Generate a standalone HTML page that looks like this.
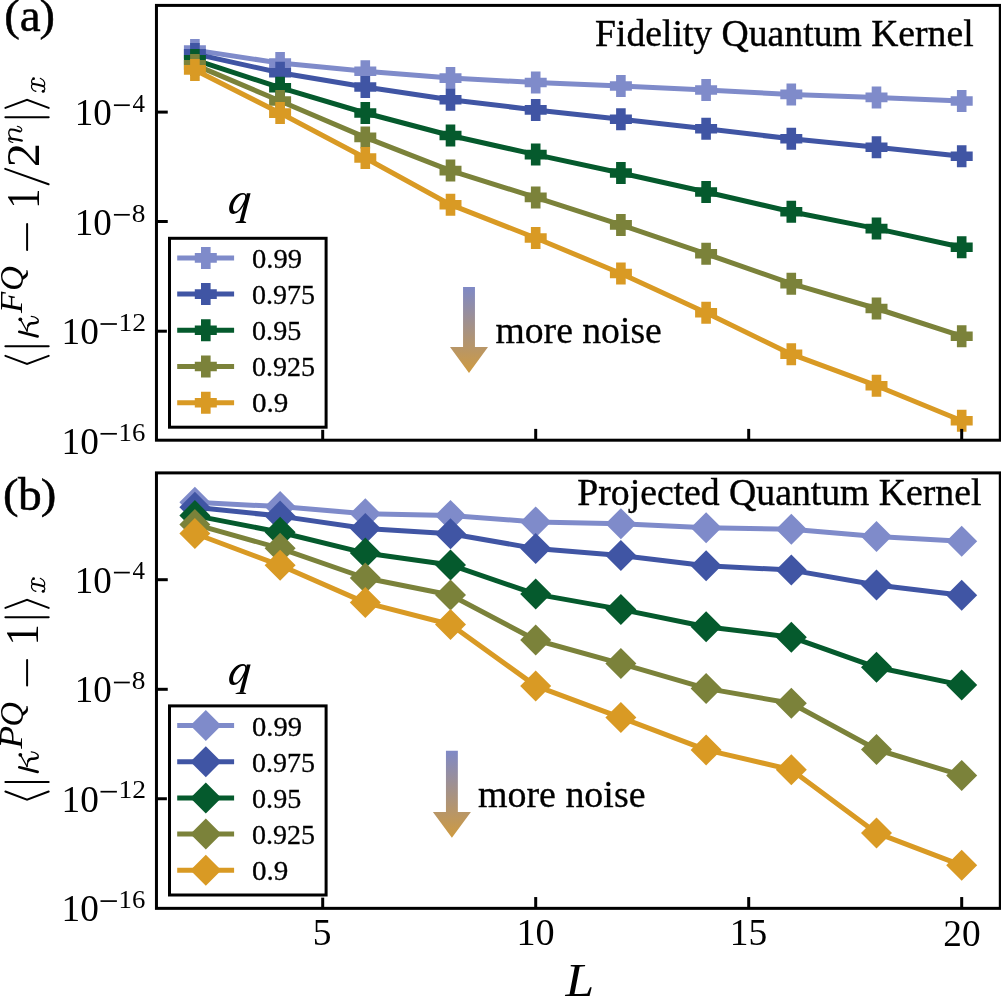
<!DOCTYPE html>
<html><head><meta charset="utf-8"><style>
html,body{margin:0;padding:0;background:#fff;overflow:hidden}
svg{display:block;will-change:transform}
text{font-family:"Liberation Serif",serif;font-kerning:none}
</style></head><body>
<svg width="1001" height="996" viewBox="0 0 1001 996" font-family="Liberation Serif, serif" style="font-kerning:none">
<rect width="1001" height="996" fill="#fff"/>
<clipPath id="ca"><rect x="156.45" y="5.4" width="843.8499999999999" height="434.8"/></clipPath>
<g clip-path="url(#ca)">
<path d="M194.90,50.10 L280.10,63.10 L365.30,71.30 L450.50,78.10 L535.70,82.50 L620.90,86.00 L706.10,90.00 L791.30,94.40 L876.50,97.40 L961.70,101.00" fill="none" stroke="#7f8bca" stroke-width="5.0" stroke-linejoin="round"/>
<path d="M190.10,39.10 L199.70,39.10 L199.70,45.30 L205.90,45.30 L205.90,54.90 L199.70,54.90 L199.70,61.10 L190.10,61.10 L190.10,54.90 L183.90,54.90 L183.90,45.30 L190.10,45.30Z" fill="#7f8bca"/>
<path d="M275.30,52.10 L284.90,52.10 L284.90,58.30 L291.10,58.30 L291.10,67.90 L284.90,67.90 L284.90,74.10 L275.30,74.10 L275.30,67.90 L269.10,67.90 L269.10,58.30 L275.30,58.30Z" fill="#7f8bca"/>
<path d="M360.50,60.30 L370.10,60.30 L370.10,66.50 L376.30,66.50 L376.30,76.10 L370.10,76.10 L370.10,82.30 L360.50,82.30 L360.50,76.10 L354.30,76.10 L354.30,66.50 L360.50,66.50Z" fill="#7f8bca"/>
<path d="M445.70,67.10 L455.30,67.10 L455.30,73.30 L461.50,73.30 L461.50,82.90 L455.30,82.90 L455.30,89.10 L445.70,89.10 L445.70,82.90 L439.50,82.90 L439.50,73.30 L445.70,73.30Z" fill="#7f8bca"/>
<path d="M530.90,71.50 L540.50,71.50 L540.50,77.70 L546.70,77.70 L546.70,87.30 L540.50,87.30 L540.50,93.50 L530.90,93.50 L530.90,87.30 L524.70,87.30 L524.70,77.70 L530.90,77.70Z" fill="#7f8bca"/>
<path d="M616.10,75.00 L625.70,75.00 L625.70,81.20 L631.90,81.20 L631.90,90.80 L625.70,90.80 L625.70,97.00 L616.10,97.00 L616.10,90.80 L609.90,90.80 L609.90,81.20 L616.10,81.20Z" fill="#7f8bca"/>
<path d="M701.30,79.00 L710.90,79.00 L710.90,85.20 L717.10,85.20 L717.10,94.80 L710.90,94.80 L710.90,101.00 L701.30,101.00 L701.30,94.80 L695.10,94.80 L695.10,85.20 L701.30,85.20Z" fill="#7f8bca"/>
<path d="M786.50,83.40 L796.10,83.40 L796.10,89.60 L802.30,89.60 L802.30,99.20 L796.10,99.20 L796.10,105.40 L786.50,105.40 L786.50,99.20 L780.30,99.20 L780.30,89.60 L786.50,89.60Z" fill="#7f8bca"/>
<path d="M871.70,86.40 L881.30,86.40 L881.30,92.60 L887.50,92.60 L887.50,102.20 L881.30,102.20 L881.30,108.40 L871.70,108.40 L871.70,102.20 L865.50,102.20 L865.50,92.60 L871.70,92.60Z" fill="#7f8bca"/>
<path d="M956.90,90.00 L966.50,90.00 L966.50,96.20 L972.70,96.20 L972.70,105.80 L966.50,105.80 L966.50,112.00 L956.90,112.00 L956.90,105.80 L950.70,105.80 L950.70,96.20 L956.90,96.20Z" fill="#7f8bca"/>
<path d="M194.90,53.90 L280.10,72.80 L365.30,87.00 L450.50,99.80 L535.70,109.90 L620.90,119.20 L706.10,128.80 L791.30,138.80 L876.50,147.20 L961.70,156.30" fill="none" stroke="#4055a4" stroke-width="5.0" stroke-linejoin="round"/>
<path d="M190.10,42.90 L199.70,42.90 L199.70,49.10 L205.90,49.10 L205.90,58.70 L199.70,58.70 L199.70,64.90 L190.10,64.90 L190.10,58.70 L183.90,58.70 L183.90,49.10 L190.10,49.10Z" fill="#4055a4"/>
<path d="M275.30,61.80 L284.90,61.80 L284.90,68.00 L291.10,68.00 L291.10,77.60 L284.90,77.60 L284.90,83.80 L275.30,83.80 L275.30,77.60 L269.10,77.60 L269.10,68.00 L275.30,68.00Z" fill="#4055a4"/>
<path d="M360.50,76.00 L370.10,76.00 L370.10,82.20 L376.30,82.20 L376.30,91.80 L370.10,91.80 L370.10,98.00 L360.50,98.00 L360.50,91.80 L354.30,91.80 L354.30,82.20 L360.50,82.20Z" fill="#4055a4"/>
<path d="M445.70,88.80 L455.30,88.80 L455.30,95.00 L461.50,95.00 L461.50,104.60 L455.30,104.60 L455.30,110.80 L445.70,110.80 L445.70,104.60 L439.50,104.60 L439.50,95.00 L445.70,95.00Z" fill="#4055a4"/>
<path d="M530.90,98.90 L540.50,98.90 L540.50,105.10 L546.70,105.10 L546.70,114.70 L540.50,114.70 L540.50,120.90 L530.90,120.90 L530.90,114.70 L524.70,114.70 L524.70,105.10 L530.90,105.10Z" fill="#4055a4"/>
<path d="M616.10,108.20 L625.70,108.20 L625.70,114.40 L631.90,114.40 L631.90,124.00 L625.70,124.00 L625.70,130.20 L616.10,130.20 L616.10,124.00 L609.90,124.00 L609.90,114.40 L616.10,114.40Z" fill="#4055a4"/>
<path d="M701.30,117.80 L710.90,117.80 L710.90,124.00 L717.10,124.00 L717.10,133.60 L710.90,133.60 L710.90,139.80 L701.30,139.80 L701.30,133.60 L695.10,133.60 L695.10,124.00 L701.30,124.00Z" fill="#4055a4"/>
<path d="M786.50,127.80 L796.10,127.80 L796.10,134.00 L802.30,134.00 L802.30,143.60 L796.10,143.60 L796.10,149.80 L786.50,149.80 L786.50,143.60 L780.30,143.60 L780.30,134.00 L786.50,134.00Z" fill="#4055a4"/>
<path d="M871.70,136.20 L881.30,136.20 L881.30,142.40 L887.50,142.40 L887.50,152.00 L881.30,152.00 L881.30,158.20 L871.70,158.20 L871.70,152.00 L865.50,152.00 L865.50,142.40 L871.70,142.40Z" fill="#4055a4"/>
<path d="M956.90,145.30 L966.50,145.30 L966.50,151.50 L972.70,151.50 L972.70,161.10 L966.50,161.10 L966.50,167.30 L956.90,167.30 L956.90,161.10 L950.70,161.10 L950.70,151.50 L956.90,151.50Z" fill="#4055a4"/>
<path d="M194.90,59.90 L280.10,87.70 L365.30,113.00 L450.50,135.50 L535.70,154.60 L620.90,173.00 L706.10,192.00 L791.30,211.70 L876.50,228.60 L961.70,247.30" fill="none" stroke="#055a2d" stroke-width="5.0" stroke-linejoin="round"/>
<path d="M190.10,48.90 L199.70,48.90 L199.70,55.10 L205.90,55.10 L205.90,64.70 L199.70,64.70 L199.70,70.90 L190.10,70.90 L190.10,64.70 L183.90,64.70 L183.90,55.10 L190.10,55.10Z" fill="#055a2d"/>
<path d="M275.30,76.70 L284.90,76.70 L284.90,82.90 L291.10,82.90 L291.10,92.50 L284.90,92.50 L284.90,98.70 L275.30,98.70 L275.30,92.50 L269.10,92.50 L269.10,82.90 L275.30,82.90Z" fill="#055a2d"/>
<path d="M360.50,102.00 L370.10,102.00 L370.10,108.20 L376.30,108.20 L376.30,117.80 L370.10,117.80 L370.10,124.00 L360.50,124.00 L360.50,117.80 L354.30,117.80 L354.30,108.20 L360.50,108.20Z" fill="#055a2d"/>
<path d="M445.70,124.50 L455.30,124.50 L455.30,130.70 L461.50,130.70 L461.50,140.30 L455.30,140.30 L455.30,146.50 L445.70,146.50 L445.70,140.30 L439.50,140.30 L439.50,130.70 L445.70,130.70Z" fill="#055a2d"/>
<path d="M530.90,143.60 L540.50,143.60 L540.50,149.80 L546.70,149.80 L546.70,159.40 L540.50,159.40 L540.50,165.60 L530.90,165.60 L530.90,159.40 L524.70,159.40 L524.70,149.80 L530.90,149.80Z" fill="#055a2d"/>
<path d="M616.10,162.00 L625.70,162.00 L625.70,168.20 L631.90,168.20 L631.90,177.80 L625.70,177.80 L625.70,184.00 L616.10,184.00 L616.10,177.80 L609.90,177.80 L609.90,168.20 L616.10,168.20Z" fill="#055a2d"/>
<path d="M701.30,181.00 L710.90,181.00 L710.90,187.20 L717.10,187.20 L717.10,196.80 L710.90,196.80 L710.90,203.00 L701.30,203.00 L701.30,196.80 L695.10,196.80 L695.10,187.20 L701.30,187.20Z" fill="#055a2d"/>
<path d="M786.50,200.70 L796.10,200.70 L796.10,206.90 L802.30,206.90 L802.30,216.50 L796.10,216.50 L796.10,222.70 L786.50,222.70 L786.50,216.50 L780.30,216.50 L780.30,206.90 L786.50,206.90Z" fill="#055a2d"/>
<path d="M871.70,217.60 L881.30,217.60 L881.30,223.80 L887.50,223.80 L887.50,233.40 L881.30,233.40 L881.30,239.60 L871.70,239.60 L871.70,233.40 L865.50,233.40 L865.50,223.80 L871.70,223.80Z" fill="#055a2d"/>
<path d="M956.90,236.30 L966.50,236.30 L966.50,242.50 L972.70,242.50 L972.70,252.10 L966.50,252.10 L966.50,258.30 L956.90,258.30 L956.90,252.10 L950.70,252.10 L950.70,242.50 L956.90,242.50Z" fill="#055a2d"/>
<path d="M194.90,64.90 L280.10,101.00 L365.30,137.40 L450.50,170.60 L535.70,197.40 L620.90,224.90 L706.10,253.80 L791.30,283.70 L876.50,308.50 L961.70,336.20" fill="none" stroke="#7b823a" stroke-width="5.0" stroke-linejoin="round"/>
<path d="M190.10,53.90 L199.70,53.90 L199.70,60.10 L205.90,60.10 L205.90,69.70 L199.70,69.70 L199.70,75.90 L190.10,75.90 L190.10,69.70 L183.90,69.70 L183.90,60.10 L190.10,60.10Z" fill="#7b823a"/>
<path d="M275.30,90.00 L284.90,90.00 L284.90,96.20 L291.10,96.20 L291.10,105.80 L284.90,105.80 L284.90,112.00 L275.30,112.00 L275.30,105.80 L269.10,105.80 L269.10,96.20 L275.30,96.20Z" fill="#7b823a"/>
<path d="M360.50,126.40 L370.10,126.40 L370.10,132.60 L376.30,132.60 L376.30,142.20 L370.10,142.20 L370.10,148.40 L360.50,148.40 L360.50,142.20 L354.30,142.20 L354.30,132.60 L360.50,132.60Z" fill="#7b823a"/>
<path d="M445.70,159.60 L455.30,159.60 L455.30,165.80 L461.50,165.80 L461.50,175.40 L455.30,175.40 L455.30,181.60 L445.70,181.60 L445.70,175.40 L439.50,175.40 L439.50,165.80 L445.70,165.80Z" fill="#7b823a"/>
<path d="M530.90,186.40 L540.50,186.40 L540.50,192.60 L546.70,192.60 L546.70,202.20 L540.50,202.20 L540.50,208.40 L530.90,208.40 L530.90,202.20 L524.70,202.20 L524.70,192.60 L530.90,192.60Z" fill="#7b823a"/>
<path d="M616.10,213.90 L625.70,213.90 L625.70,220.10 L631.90,220.10 L631.90,229.70 L625.70,229.70 L625.70,235.90 L616.10,235.90 L616.10,229.70 L609.90,229.70 L609.90,220.10 L616.10,220.10Z" fill="#7b823a"/>
<path d="M701.30,242.80 L710.90,242.80 L710.90,249.00 L717.10,249.00 L717.10,258.60 L710.90,258.60 L710.90,264.80 L701.30,264.80 L701.30,258.60 L695.10,258.60 L695.10,249.00 L701.30,249.00Z" fill="#7b823a"/>
<path d="M786.50,272.70 L796.10,272.70 L796.10,278.90 L802.30,278.90 L802.30,288.50 L796.10,288.50 L796.10,294.70 L786.50,294.70 L786.50,288.50 L780.30,288.50 L780.30,278.90 L786.50,278.90Z" fill="#7b823a"/>
<path d="M871.70,297.50 L881.30,297.50 L881.30,303.70 L887.50,303.70 L887.50,313.30 L881.30,313.30 L881.30,319.50 L871.70,319.50 L871.70,313.30 L865.50,313.30 L865.50,303.70 L871.70,303.70Z" fill="#7b823a"/>
<path d="M956.90,325.20 L966.50,325.20 L966.50,331.40 L972.70,331.40 L972.70,341.00 L966.50,341.00 L966.50,347.20 L956.90,347.20 L956.90,341.00 L950.70,341.00 L950.70,331.40 L956.90,331.40Z" fill="#7b823a"/>
<path d="M194.90,69.90 L280.10,113.10 L365.30,158.00 L450.50,204.70 L535.70,238.00 L620.90,273.50 L706.10,312.80 L791.30,354.20 L876.50,385.70 L961.70,420.70" fill="none" stroke="#d99a24" stroke-width="5.0" stroke-linejoin="round"/>
<path d="M190.10,58.90 L199.70,58.90 L199.70,65.10 L205.90,65.10 L205.90,74.70 L199.70,74.70 L199.70,80.90 L190.10,80.90 L190.10,74.70 L183.90,74.70 L183.90,65.10 L190.10,65.10Z" fill="#d99a24"/>
<path d="M275.30,102.10 L284.90,102.10 L284.90,108.30 L291.10,108.30 L291.10,117.90 L284.90,117.90 L284.90,124.10 L275.30,124.10 L275.30,117.90 L269.10,117.90 L269.10,108.30 L275.30,108.30Z" fill="#d99a24"/>
<path d="M360.50,147.00 L370.10,147.00 L370.10,153.20 L376.30,153.20 L376.30,162.80 L370.10,162.80 L370.10,169.00 L360.50,169.00 L360.50,162.80 L354.30,162.80 L354.30,153.20 L360.50,153.20Z" fill="#d99a24"/>
<path d="M445.70,193.70 L455.30,193.70 L455.30,199.90 L461.50,199.90 L461.50,209.50 L455.30,209.50 L455.30,215.70 L445.70,215.70 L445.70,209.50 L439.50,209.50 L439.50,199.90 L445.70,199.90Z" fill="#d99a24"/>
<path d="M530.90,227.00 L540.50,227.00 L540.50,233.20 L546.70,233.20 L546.70,242.80 L540.50,242.80 L540.50,249.00 L530.90,249.00 L530.90,242.80 L524.70,242.80 L524.70,233.20 L530.90,233.20Z" fill="#d99a24"/>
<path d="M616.10,262.50 L625.70,262.50 L625.70,268.70 L631.90,268.70 L631.90,278.30 L625.70,278.30 L625.70,284.50 L616.10,284.50 L616.10,278.30 L609.90,278.30 L609.90,268.70 L616.10,268.70Z" fill="#d99a24"/>
<path d="M701.30,301.80 L710.90,301.80 L710.90,308.00 L717.10,308.00 L717.10,317.60 L710.90,317.60 L710.90,323.80 L701.30,323.80 L701.30,317.60 L695.10,317.60 L695.10,308.00 L701.30,308.00Z" fill="#d99a24"/>
<path d="M786.50,343.20 L796.10,343.20 L796.10,349.40 L802.30,349.40 L802.30,359.00 L796.10,359.00 L796.10,365.20 L786.50,365.20 L786.50,359.00 L780.30,359.00 L780.30,349.40 L786.50,349.40Z" fill="#d99a24"/>
<path d="M871.70,374.70 L881.30,374.70 L881.30,380.90 L887.50,380.90 L887.50,390.50 L881.30,390.50 L881.30,396.70 L871.70,396.70 L871.70,390.50 L865.50,390.50 L865.50,380.90 L871.70,380.90Z" fill="#d99a24"/>
<path d="M956.90,409.70 L966.50,409.70 L966.50,415.90 L972.70,415.90 L972.70,425.50 L966.50,425.50 L966.50,431.70 L956.90,431.70 L956.90,425.50 L950.70,425.50 L950.70,415.90 L956.90,415.90Z" fill="#d99a24"/>
</g>
<line x1="156.45" y1="112.1" x2="167.75" y2="112.1" stroke="#000" stroke-width="3.0"/>
<line x1="156.45" y1="221.5" x2="167.75" y2="221.5" stroke="#000" stroke-width="3.0"/>
<line x1="156.45" y1="331.2" x2="167.75" y2="331.2" stroke="#000" stroke-width="3.0"/>
<line x1="322.70" y1="440.2" x2="322.70" y2="428.9" stroke="#000" stroke-width="3.0"/>
<line x1="535.70" y1="440.2" x2="535.70" y2="428.9" stroke="#000" stroke-width="3.0"/>
<line x1="748.70" y1="440.2" x2="748.70" y2="428.9" stroke="#000" stroke-width="3.0"/>
<line x1="961.70" y1="440.2" x2="961.70" y2="428.9" stroke="#000" stroke-width="3.0"/>
<rect x="156.45" y="5.4" width="843.8499999999999" height="434.8" fill="none" stroke="#000" stroke-width="3.0"/>
<text transform="matrix(0.99110,0,0,1,595.015,46.050)" font-size="38.00" fill="#000" stroke="#000" stroke-width="0.400">Fidelity Quantum Kernel</text>
<rect x="169.5" y="238.3" width="156.60000000000002" height="188.89999999999998" fill="#fff" stroke="#fff" stroke-width="5.2"/>
<rect x="169.5" y="238.3" width="156.60000000000002" height="188.89999999999998" fill="#fff" stroke="#000" stroke-width="3.0"/>
<line x1="177.2" y1="257.90" x2="234.1" y2="257.90" stroke="#7f8bca" stroke-width="5.0"/>
<path d="M201.00,246.90 L210.60,246.90 L210.60,253.10 L216.80,253.10 L216.80,262.70 L210.60,262.70 L210.60,268.90 L201.00,268.90 L201.00,262.70 L194.80,262.70 L194.80,253.10 L201.00,253.10Z" fill="#7f8bca"/>
<text transform="matrix(1.03060,0,0,1,252.013,267.600)" font-size="27.70" fill="#000" stroke="#000" stroke-width="0.300">0.99</text>
<line x1="177.2" y1="294.10" x2="234.1" y2="294.10" stroke="#4055a4" stroke-width="5.0"/>
<path d="M201.00,283.10 L210.60,283.10 L210.60,289.30 L216.80,289.30 L216.80,298.90 L210.60,298.90 L210.60,305.10 L201.00,305.10 L201.00,298.90 L194.80,298.90 L194.80,289.30 L201.00,289.30Z" fill="#4055a4"/>
<text transform="matrix(1.01183,0,0,1,252.033,303.750)" font-size="27.70" fill="#000" stroke="#000" stroke-width="0.300">0.975</text>
<line x1="177.2" y1="330.30" x2="234.1" y2="330.30" stroke="#055a2d" stroke-width="5.0"/>
<path d="M201.00,319.30 L210.60,319.30 L210.60,325.50 L216.80,325.50 L216.80,335.10 L210.60,335.10 L210.60,341.30 L201.00,341.30 L201.00,335.10 L194.80,335.10 L194.80,325.50 L201.00,325.50Z" fill="#055a2d"/>
<text transform="matrix(1.01644,0,0,1,252.028,339.900)" font-size="27.70" fill="#000" stroke="#000" stroke-width="0.300">0.95</text>
<line x1="177.2" y1="366.50" x2="234.1" y2="366.50" stroke="#7b823a" stroke-width="5.0"/>
<path d="M201.00,355.50 L210.60,355.50 L210.60,361.70 L216.80,361.70 L216.80,371.30 L210.60,371.30 L210.60,377.50 L201.00,377.50 L201.00,371.30 L194.80,371.30 L194.80,361.70 L201.00,361.70Z" fill="#7b823a"/>
<text transform="matrix(1.01183,0,0,1,252.033,376.050)" font-size="27.70" fill="#000" stroke="#000" stroke-width="0.300">0.925</text>
<line x1="177.2" y1="402.70" x2="234.1" y2="402.70" stroke="#d99a24" stroke-width="5.0"/>
<path d="M201.00,391.70 L210.60,391.70 L210.60,397.90 L216.80,397.90 L216.80,407.50 L210.60,407.50 L210.60,413.70 L201.00,413.70 L201.00,407.50 L194.80,407.50 L194.80,397.90 L201.00,397.90Z" fill="#d99a24"/>
<text transform="matrix(1.05137,0,0,1,251.991,412.200)" font-size="27.70" fill="#000" stroke="#000" stroke-width="0.300">0.9</text>
<g transform="translate(0,0.00)" fill="#000"><path fill-rule="evenodd" d="M243.0,192.9 C247.6,192.9 247.6,198.5 245.3,202.6 C242.1,208.6 238.0,213.9 233.4,213.9 C229.4,213.9 228.5,209.5 229.5,205.4 C230.9,199.4 236.5,192.9 243.0,192.9 Z M243.3,194.6 C245.8,194.6 245.8,198.0 244.0,201.6 C241.5,206.6 238.6,211.5 235.6,211.5 C233.1,211.5 232.7,208.6 233.3,205.6 C234.4,200.6 239.0,194.6 243.3,194.6 Z"/><path d="M246.8,193.3 L250.6,193.3 L243.4,221.2 L239.6,221.2 Z"/><path d="M235.0,222.9 C236.5,221.6 238.0,221.1 239.6,221.0 L243.4,221.0 C244.5,221.1 245.6,221.6 246.4,222.9 Z"/></g>
<clipPath id="cb"><rect x="156.45" y="472.9" width="843.8499999999999" height="435.45000000000005"/></clipPath>
<g clip-path="url(#cb)">
<path d="M194.90,502.30 L280.10,506.60 L365.30,513.70 L450.50,515.40 L535.70,521.90 L620.90,523.70 L706.10,527.80 L791.30,529.30 L876.50,536.50 L961.70,541.30" fill="none" stroke="#7f8bca" stroke-width="5.0" stroke-linejoin="round"/>
<path d="M194.90,486.80 L210.40,502.30 L194.90,517.80 L179.40,502.30Z" fill="#7f8bca"/>
<path d="M280.10,491.10 L295.60,506.60 L280.10,522.10 L264.60,506.60Z" fill="#7f8bca"/>
<path d="M365.30,498.20 L380.80,513.70 L365.30,529.20 L349.80,513.70Z" fill="#7f8bca"/>
<path d="M450.50,499.90 L466.00,515.40 L450.50,530.90 L435.00,515.40Z" fill="#7f8bca"/>
<path d="M535.70,506.40 L551.20,521.90 L535.70,537.40 L520.20,521.90Z" fill="#7f8bca"/>
<path d="M620.90,508.20 L636.40,523.70 L620.90,539.20 L605.40,523.70Z" fill="#7f8bca"/>
<path d="M706.10,512.30 L721.60,527.80 L706.10,543.30 L690.60,527.80Z" fill="#7f8bca"/>
<path d="M791.30,513.80 L806.80,529.30 L791.30,544.80 L775.80,529.30Z" fill="#7f8bca"/>
<path d="M876.50,521.00 L892.00,536.50 L876.50,552.00 L861.00,536.50Z" fill="#7f8bca"/>
<path d="M961.70,525.80 L977.20,541.30 L961.70,556.80 L946.20,541.30Z" fill="#7f8bca"/>
<path d="M194.90,507.20 L280.10,516.10 L365.30,528.50 L450.50,533.80 L535.70,548.60 L620.90,555.40 L706.10,565.70 L791.30,570.10 L876.50,585.00 L961.70,595.20" fill="none" stroke="#4055a4" stroke-width="5.0" stroke-linejoin="round"/>
<path d="M194.90,491.70 L210.40,507.20 L194.90,522.70 L179.40,507.20Z" fill="#4055a4"/>
<path d="M280.10,500.60 L295.60,516.10 L280.10,531.60 L264.60,516.10Z" fill="#4055a4"/>
<path d="M365.30,513.00 L380.80,528.50 L365.30,544.00 L349.80,528.50Z" fill="#4055a4"/>
<path d="M450.50,518.30 L466.00,533.80 L450.50,549.30 L435.00,533.80Z" fill="#4055a4"/>
<path d="M535.70,533.10 L551.20,548.60 L535.70,564.10 L520.20,548.60Z" fill="#4055a4"/>
<path d="M620.90,539.90 L636.40,555.40 L620.90,570.90 L605.40,555.40Z" fill="#4055a4"/>
<path d="M706.10,550.20 L721.60,565.70 L706.10,581.20 L690.60,565.70Z" fill="#4055a4"/>
<path d="M791.30,554.60 L806.80,570.10 L791.30,585.60 L775.80,570.10Z" fill="#4055a4"/>
<path d="M876.50,569.50 L892.00,585.00 L876.50,600.50 L861.00,585.00Z" fill="#4055a4"/>
<path d="M961.70,579.70 L977.20,595.20 L961.70,610.70 L946.20,595.20Z" fill="#4055a4"/>
<path d="M194.90,515.60 L280.10,532.20 L365.30,553.10 L450.50,564.90 L535.70,594.10 L620.90,609.40 L706.10,626.70 L791.30,637.20 L876.50,667.30 L961.70,685.10" fill="none" stroke="#055a2d" stroke-width="5.0" stroke-linejoin="round"/>
<path d="M194.90,500.10 L210.40,515.60 L194.90,531.10 L179.40,515.60Z" fill="#055a2d"/>
<path d="M280.10,516.70 L295.60,532.20 L280.10,547.70 L264.60,532.20Z" fill="#055a2d"/>
<path d="M365.30,537.60 L380.80,553.10 L365.30,568.60 L349.80,553.10Z" fill="#055a2d"/>
<path d="M450.50,549.40 L466.00,564.90 L450.50,580.40 L435.00,564.90Z" fill="#055a2d"/>
<path d="M535.70,578.60 L551.20,594.10 L535.70,609.60 L520.20,594.10Z" fill="#055a2d"/>
<path d="M620.90,593.90 L636.40,609.40 L620.90,624.90 L605.40,609.40Z" fill="#055a2d"/>
<path d="M706.10,611.20 L721.60,626.70 L706.10,642.20 L690.60,626.70Z" fill="#055a2d"/>
<path d="M791.30,621.70 L806.80,637.20 L791.30,652.70 L775.80,637.20Z" fill="#055a2d"/>
<path d="M876.50,651.80 L892.00,667.30 L876.50,682.80 L861.00,667.30Z" fill="#055a2d"/>
<path d="M961.70,669.60 L977.20,685.10 L961.70,700.60 L946.20,685.10Z" fill="#055a2d"/>
<path d="M194.90,524.40 L280.10,548.30 L365.30,578.00 L450.50,595.00 L535.70,640.00 L620.90,663.60 L706.10,688.40 L791.30,703.30 L876.50,749.50 L961.70,775.40" fill="none" stroke="#7b823a" stroke-width="5.0" stroke-linejoin="round"/>
<path d="M194.90,508.90 L210.40,524.40 L194.90,539.90 L179.40,524.40Z" fill="#7b823a"/>
<path d="M280.10,532.80 L295.60,548.30 L280.10,563.80 L264.60,548.30Z" fill="#7b823a"/>
<path d="M365.30,562.50 L380.80,578.00 L365.30,593.50 L349.80,578.00Z" fill="#7b823a"/>
<path d="M450.50,579.50 L466.00,595.00 L450.50,610.50 L435.00,595.00Z" fill="#7b823a"/>
<path d="M535.70,624.50 L551.20,640.00 L535.70,655.50 L520.20,640.00Z" fill="#7b823a"/>
<path d="M620.90,648.10 L636.40,663.60 L620.90,679.10 L605.40,663.60Z" fill="#7b823a"/>
<path d="M706.10,672.90 L721.60,688.40 L706.10,703.90 L690.60,688.40Z" fill="#7b823a"/>
<path d="M791.30,687.80 L806.80,703.30 L791.30,718.80 L775.80,703.30Z" fill="#7b823a"/>
<path d="M876.50,734.00 L892.00,749.50 L876.50,765.00 L861.00,749.50Z" fill="#7b823a"/>
<path d="M961.70,759.90 L977.20,775.40 L961.70,790.90 L946.20,775.40Z" fill="#7b823a"/>
<path d="M194.90,533.50 L280.10,565.30 L365.30,602.60 L450.50,624.50 L535.70,685.90 L620.90,717.60 L706.10,749.90 L791.30,769.70 L876.50,832.90 L961.70,865.30" fill="none" stroke="#d99a24" stroke-width="5.0" stroke-linejoin="round"/>
<path d="M194.90,518.00 L210.40,533.50 L194.90,549.00 L179.40,533.50Z" fill="#d99a24"/>
<path d="M280.10,549.80 L295.60,565.30 L280.10,580.80 L264.60,565.30Z" fill="#d99a24"/>
<path d="M365.30,587.10 L380.80,602.60 L365.30,618.10 L349.80,602.60Z" fill="#d99a24"/>
<path d="M450.50,609.00 L466.00,624.50 L450.50,640.00 L435.00,624.50Z" fill="#d99a24"/>
<path d="M535.70,670.40 L551.20,685.90 L535.70,701.40 L520.20,685.90Z" fill="#d99a24"/>
<path d="M620.90,702.10 L636.40,717.60 L620.90,733.10 L605.40,717.60Z" fill="#d99a24"/>
<path d="M706.10,734.40 L721.60,749.90 L706.10,765.40 L690.60,749.90Z" fill="#d99a24"/>
<path d="M791.30,754.20 L806.80,769.70 L791.30,785.20 L775.80,769.70Z" fill="#d99a24"/>
<path d="M876.50,817.40 L892.00,832.90 L876.50,848.40 L861.00,832.90Z" fill="#d99a24"/>
<path d="M961.70,849.80 L977.20,865.30 L961.70,880.80 L946.20,865.30Z" fill="#d99a24"/>
</g>
<line x1="156.45" y1="579.7" x2="167.75" y2="579.7" stroke="#000" stroke-width="3.0"/>
<line x1="156.45" y1="689.3" x2="167.75" y2="689.3" stroke="#000" stroke-width="3.0"/>
<line x1="156.45" y1="798.75" x2="167.75" y2="798.75" stroke="#000" stroke-width="3.0"/>
<line x1="322.70" y1="908.35" x2="322.70" y2="897.0500000000001" stroke="#000" stroke-width="3.0"/>
<line x1="535.70" y1="908.35" x2="535.70" y2="897.0500000000001" stroke="#000" stroke-width="3.0"/>
<line x1="748.70" y1="908.35" x2="748.70" y2="897.0500000000001" stroke="#000" stroke-width="3.0"/>
<line x1="961.70" y1="908.35" x2="961.70" y2="897.0500000000001" stroke="#000" stroke-width="3.0"/>
<rect x="156.45" y="472.9" width="843.8499999999999" height="435.45000000000005" fill="none" stroke="#000" stroke-width="3.0"/>
<text transform="matrix(0.99483,0,0,1,577.314,504.850)" font-size="37.90" fill="#000" stroke="#000" stroke-width="0.400">Projected Quantum Kernel</text>
<rect x="169.5" y="705.9" width="156.60000000000002" height="189.10000000000002" fill="#fff" stroke="#fff" stroke-width="5.2"/>
<rect x="169.5" y="705.9" width="156.60000000000002" height="189.10000000000002" fill="#fff" stroke="#000" stroke-width="3.0"/>
<line x1="177.2" y1="725.50" x2="234.1" y2="725.50" stroke="#7f8bca" stroke-width="5.0"/>
<path d="M205.80,710.00 L221.30,725.50 L205.80,741.00 L190.30,725.50Z" fill="#7f8bca"/>
<text transform="matrix(1.03060,0,0,1,252.013,735.600)" font-size="27.70" fill="#000" stroke="#000" stroke-width="0.300">0.99</text>
<line x1="177.2" y1="761.70" x2="234.1" y2="761.70" stroke="#4055a4" stroke-width="5.0"/>
<path d="M205.80,746.20 L221.30,761.70 L205.80,777.20 L190.30,761.70Z" fill="#4055a4"/>
<text transform="matrix(1.01183,0,0,1,252.033,771.750)" font-size="27.70" fill="#000" stroke="#000" stroke-width="0.300">0.975</text>
<line x1="177.2" y1="797.90" x2="234.1" y2="797.90" stroke="#055a2d" stroke-width="5.0"/>
<path d="M205.80,782.40 L221.30,797.90 L205.80,813.40 L190.30,797.90Z" fill="#055a2d"/>
<text transform="matrix(1.01644,0,0,1,252.028,807.900)" font-size="27.70" fill="#000" stroke="#000" stroke-width="0.300">0.95</text>
<line x1="177.2" y1="834.10" x2="234.1" y2="834.10" stroke="#7b823a" stroke-width="5.0"/>
<path d="M205.80,818.60 L221.30,834.10 L205.80,849.60 L190.30,834.10Z" fill="#7b823a"/>
<text transform="matrix(1.01183,0,0,1,252.033,844.050)" font-size="27.70" fill="#000" stroke="#000" stroke-width="0.300">0.925</text>
<line x1="177.2" y1="870.30" x2="234.1" y2="870.30" stroke="#d99a24" stroke-width="5.0"/>
<path d="M205.80,854.80 L221.30,870.30 L205.80,885.80 L190.30,870.30Z" fill="#d99a24"/>
<text transform="matrix(1.05137,0,0,1,251.991,880.200)" font-size="27.70" fill="#000" stroke="#000" stroke-width="0.300">0.9</text>
<g transform="translate(0,471.20)" fill="#000"><path fill-rule="evenodd" d="M243.0,192.9 C247.6,192.9 247.6,198.5 245.3,202.6 C242.1,208.6 238.0,213.9 233.4,213.9 C229.4,213.9 228.5,209.5 229.5,205.4 C230.9,199.4 236.5,192.9 243.0,192.9 Z M243.3,194.6 C245.8,194.6 245.8,198.0 244.0,201.6 C241.5,206.6 238.6,211.5 235.6,211.5 C233.1,211.5 232.7,208.6 233.3,205.6 C234.4,200.6 239.0,194.6 243.3,194.6 Z"/><path d="M246.8,193.3 L250.6,193.3 L243.4,221.2 L239.6,221.2 Z"/><path d="M235.0,222.9 C236.5,221.6 238.0,221.1 239.6,221.0 L243.4,221.0 C244.5,221.1 245.6,221.6 246.4,222.9 Z"/></g>
<text transform="matrix(0.96036,0,0,1,74.742,125.000)" font-size="38.60" fill="#000">10</text>
<rect x="113.9" y="104.35" width="15.90" height="1.7" fill="#000"/>
<text transform="matrix(0.95247,0,0,1,132.413,111.900)" font-size="26.20" fill="#000">4</text>
<text transform="matrix(0.96036,0,0,1,74.742,234.600)" font-size="38.60" fill="#000">10</text>
<rect x="113.9" y="213.95" width="15.90" height="1.7" fill="#000"/>
<text transform="matrix(1.04464,0,0,1,131.858,221.500)" font-size="26.20" fill="#000">8</text>
<text transform="matrix(0.96629,0,0,1,61.522,344.100)" font-size="38.60" fill="#000">10</text>
<rect x="100.5" y="323.15" width="16.40" height="1.7" fill="#000"/>
<text transform="matrix(1.05115,0,0,1,118.479,330.700)" font-size="26.20" fill="#000">12</text>
<text transform="matrix(0.96629,0,0,1,61.522,454.200)" font-size="38.60" fill="#000">10</text>
<rect x="100.5" y="432.95" width="16.40" height="1.7" fill="#000"/>
<text transform="matrix(1.02090,0,0,1,118.549,440.500)" font-size="26.20" fill="#000">16</text>
<text transform="matrix(0.96036,0,0,1,74.742,592.800)" font-size="38.60" fill="#000">10</text>
<rect x="113.9" y="571.75" width="15.90" height="1.7" fill="#000"/>
<text transform="matrix(0.95247,0,0,1,132.413,579.300)" font-size="26.20" fill="#000">4</text>
<text transform="matrix(0.96036,0,0,1,74.742,702.400)" font-size="38.60" fill="#000">10</text>
<rect x="113.9" y="681.65" width="15.90" height="1.7" fill="#000"/>
<text transform="matrix(1.04464,0,0,1,131.858,689.200)" font-size="26.20" fill="#000">8</text>
<text transform="matrix(0.96629,0,0,1,61.522,811.500)" font-size="38.60" fill="#000">10</text>
<rect x="100.5" y="790.85" width="16.40" height="1.7" fill="#000"/>
<text transform="matrix(1.05115,0,0,1,118.479,798.400)" font-size="26.20" fill="#000">12</text>
<text transform="matrix(0.96629,0,0,1,61.522,921.300)" font-size="38.60" fill="#000">10</text>
<rect x="100.5" y="900.25" width="16.40" height="1.7" fill="#000"/>
<text transform="matrix(1.02090,0,0,1,118.549,907.800)" font-size="26.20" fill="#000">16</text>
<text transform="matrix(0.93712,0,0,0.97434,312.822,945.319)" font-size="40.0" fill="#000">5</text>
<text transform="matrix(0.95535,0,0,0.95954,516.441,945.425)" font-size="40.0" fill="#000">10</text>
<text transform="matrix(0.93638,0,0,0.96653,729.708,945.322)" font-size="40.0" fill="#000">15</text>
<text transform="matrix(0.93413,0,0,0.95954,943.258,945.725)" font-size="40.0" fill="#000">20</text>
<text transform="matrix(1.28720,0,0,1.16450,565.603,995.500)" font-size="40.0" font-style="italic" fill="#000">L</text>
<text transform="matrix(1.16806,0,0,1.08907,4.247,29.626)" font-size="40.0" fill="#000" stroke="#000" stroke-width="0.459">(</text>
<text transform="matrix(1.17716,0,0,1.14300,19.645,30.754)" font-size="40.0" fill="#000" stroke="#000" stroke-width="0.437">a</text>
<text transform="matrix(1.15833,0,0,1.08907,39.607,29.626)" font-size="40.0" fill="#000" stroke="#000" stroke-width="0.459">)</text>
<text transform="matrix(1.16806,0,0,1.07528,3.047,507.743)" font-size="40.0" fill="#000" stroke="#000" stroke-width="0.465">(</text>
<text transform="matrix(1.18529,0,0,1.14054,18.000,509.554)" font-size="40.0" fill="#000" stroke="#000" stroke-width="0.438">b</text>
<text transform="matrix(1.16806,0,0,1.07528,40.794,507.743)" font-size="40.0" fill="#000" stroke="#000" stroke-width="0.465">)</text>
<linearGradient id="g1" x1="0" y1="287.0" x2="0" y2="372.9" gradientUnits="userSpaceOnUse"><stop offset="0" stop-color="#7f89c6"/><stop offset="1" stop-color="#cf9b40"/></linearGradient><path d="M463.05,287.00 L474.95,287.00 L474.95,347.10 L488.00,347.10 L469.00,372.90 L450.00,347.10 L463.05,347.10Z" fill="url(#g1)"/>
<text transform="matrix(0.98591,0,0,1,495.509,343.200)" font-size="38.20" fill="#000" stroke="#000" stroke-width="0.300">more noise</text>
<linearGradient id="g2" x1="0" y1="750.8" x2="0" y2="837.8" gradientUnits="userSpaceOnUse"><stop offset="0" stop-color="#7f89c6"/><stop offset="1" stop-color="#cf9b40"/></linearGradient><path d="M445.95,750.80 L457.85,750.80 L457.85,811.90 L470.90,811.90 L451.90,837.80 L432.90,811.90 L445.95,811.90Z" fill="url(#g2)"/>
<text transform="matrix(0.99371,0,0,1,477.903,806.800)" font-size="38.20" fill="#000" stroke="#000" stroke-width="0.300">more noise</text>
<g transform="translate(0,0.00)" fill="none" stroke="#000" stroke-linecap="round"><path d="M32.6,83.7 C36.0,84.3 40.0,85.2 43.6,86.2" stroke-width="2.0"/><path d="M32.6,83.7 C31.2,82.6 30.9,80.0 33.2,78.9" stroke-width="1.2"/><circle cx="33.6" cy="78.7" r="1.4" fill="#000" stroke="none"/><path d="M43.6,86.2 C45.4,84.6 45.6,80.9 40.3,78.3" stroke-width="1.2"/><path d="M32.7,84.0 C30.6,85.4 30.7,89.6 35.9,91.4" stroke-width="1.2"/><path d="M42.6,86.0 C45.1,87.0 45.7,89.7 43.5,91.0" stroke-width="1.2"/><circle cx="43.2" cy="91.2" r="1.5" fill="#000" stroke="none"/></g>
<polyline points="5.4,107.9 27.05,99.7 48.7,107.9" fill="none" stroke="#000" stroke-width="2.0" stroke-linejoin="miter" stroke-linecap="round"/>
<line x1="5.4" y1="117.3" x2="48.7" y2="117.3" stroke="#000" stroke-width="2.0" stroke-linecap="round"/>
<g fill="none" stroke="#000" stroke-linecap="round"><path d="M9.3,138.4 C13.5,139.1 17.8,139.8 21.9,140.6" stroke-width="2.1"/><path d="M9.3,138.5 C8.0,139.6 8.8,141.7 12.9,142.5" stroke-width="1.1"/><path d="M10.9,137.6 C8.4,135.2 7.8,131.0 10.3,129.6" stroke-width="1.3"/><path d="M10.3,129.6 C13.4,129.0 17.0,130.7 20.2,131.5" stroke-width="2.0"/><path d="M20.2,131.5 C22.7,131.1 22.6,127.4 17.3,126.2" stroke-width="1.1"/></g>
<text transform="matrix(0,-1.21608,1.14785,0,38.600,167.338)" font-size="40.0" fill="#000">2</text>
<line x1="5.2" y1="168.9" x2="48.6" y2="184.3" stroke="#000" stroke-width="2.0" stroke-linecap="round"/>
<text transform="matrix(0,-1.00838,1.15124,0,38.600,208.845)" font-size="40.0" fill="#000">1</text>
<line x1="27.1" y1="224.1" x2="27.1" y2="249.9" stroke="#000" stroke-width="2.0" stroke-linecap="round"/>
<text transform="matrix(0,-0.85976,0.83109,0,22.611,290.898)" font-size="40.0" font-style="italic" fill="#000">Q</text>
<text transform="matrix(0,-0.86868,0.80179,0,22.000,312.913)" font-size="40.0" font-style="italic" fill="#000">F</text>
<g transform="translate(0,0.00)" fill="none" stroke="#000" stroke-linecap="round"><line x1="19.3" y1="331.8" x2="37.6" y2="336.4" stroke-width="2.7"/><path d="M20.6,319.6 L27.0,331.0" stroke-width="1.25"/><circle cx="20.3" cy="319.3" r="1.9" fill="#000" stroke="none"/><path d="M27.1,331.2 C27.3,327.4 28.0,324.0 30.8,323.4 C33.2,322.9 36.4,323.9 37.9,321.9 C39.4,319.6 36.2,316.7 31.3,316.3" stroke-width="1.3"/><path d="M28.2,325.4 C29.0,323.7 30.0,323.4 31.2,323.3 C33.4,323.0 35.8,323.6 37.4,322.3" stroke-width="2.4"/></g>
<line x1="5.4" y1="346.2" x2="48.7" y2="346.2" stroke="#000" stroke-width="2.0" stroke-linecap="round"/>
<polyline points="5.4,355.9 27.05,363.9 48.7,355.9" fill="none" stroke="#000" stroke-width="2.0" stroke-linejoin="miter" stroke-linecap="round"/>
<g transform="translate(0,500.00)" fill="none" stroke="#000" stroke-linecap="round"><path d="M32.6,83.7 C36.0,84.3 40.0,85.2 43.6,86.2" stroke-width="2.0"/><path d="M32.6,83.7 C31.2,82.6 30.9,80.0 33.2,78.9" stroke-width="1.2"/><circle cx="33.6" cy="78.7" r="1.4" fill="#000" stroke="none"/><path d="M43.6,86.2 C45.4,84.6 45.6,80.9 40.3,78.3" stroke-width="1.2"/><path d="M32.7,84.0 C30.6,85.4 30.7,89.6 35.9,91.4" stroke-width="1.2"/><path d="M42.6,86.0 C45.1,87.0 45.7,89.7 43.5,91.0" stroke-width="1.2"/><circle cx="43.2" cy="91.2" r="1.5" fill="#000" stroke="none"/></g>
<polyline points="5.4,607.9 27.05,599.7 48.7,607.9" fill="none" stroke="#000" stroke-width="2.0" stroke-linejoin="miter" stroke-linecap="round"/>
<line x1="5.4" y1="617.3" x2="48.7" y2="617.3" stroke="#000" stroke-width="2.0" stroke-linecap="round"/>
<text transform="matrix(0,-1.07229,1.13988,0,38.300,645.470)" font-size="40.0" fill="#000">1</text>
<line x1="27.1" y1="659.9" x2="27.1" y2="685.6" stroke="#000" stroke-width="2.0" stroke-linecap="round"/>
<text transform="matrix(0,-0.85590,0.83109,0,22.611,726.789)" font-size="40.0" font-style="italic" fill="#000">Q</text>
<text transform="matrix(0,-0.94360,0.81706,0,22.000,748.797)" font-size="40.0" font-style="italic" fill="#000">P</text>
<g transform="translate(0,435.50)" fill="none" stroke="#000" stroke-linecap="round"><line x1="19.3" y1="331.8" x2="37.6" y2="336.4" stroke-width="2.7"/><path d="M20.6,319.6 L27.0,331.0" stroke-width="1.25"/><circle cx="20.3" cy="319.3" r="1.9" fill="#000" stroke="none"/><path d="M27.1,331.2 C27.3,327.4 28.0,324.0 30.8,323.4 C33.2,322.9 36.4,323.9 37.9,321.9 C39.4,319.6 36.2,316.7 31.3,316.3" stroke-width="1.3"/><path d="M28.2,325.4 C29.0,323.7 30.0,323.4 31.2,323.3 C33.4,323.0 35.8,323.6 37.4,322.3" stroke-width="2.4"/></g>
<line x1="5.4" y1="781.9" x2="48.7" y2="781.9" stroke="#000" stroke-width="2.0" stroke-linecap="round"/>
<polyline points="5.4,791.5 27.05,799.6 48.7,791.5" fill="none" stroke="#000" stroke-width="2.0" stroke-linejoin="miter" stroke-linecap="round"/>
</svg>
</body></html>
